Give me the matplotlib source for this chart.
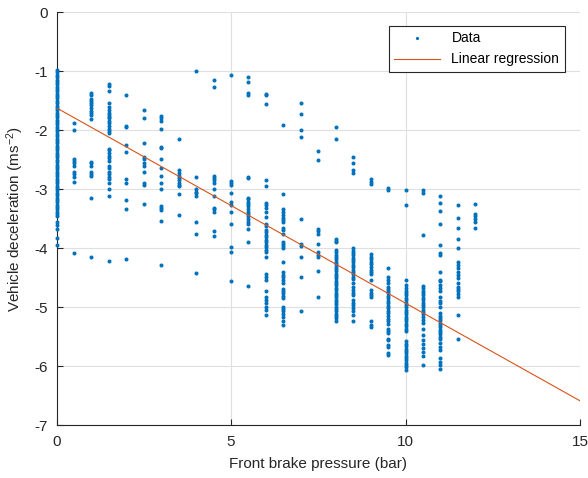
import numpy as np
import matplotlib
matplotlib.use("Agg")
import matplotlib.pyplot as plt

pressure_levels = [0, 0.5, 1, 1.5, 2, 2.5, 3, 3.5, 4, 4.5, 5, 5.5, 6, 6.5,
                   7, 7.5, 8, 8.5, 9, 9.5, 10, 10.5, 11, 11.5, 12]

d_00 = [-0.98, -1.02, -1.06, -1.10, -1.14, -1.18, -1.22, -1.26, -1.30, -1.34, -1.38,
        -1.42, -1.46, -1.50, -1.54, -1.58, -1.62, -1.66, -1.70, -1.74, -1.78, -1.82,
        -1.86, -1.90, -1.94, -1.98, -2.02, -2.06, -2.10, -2.14, -2.18, -2.22, -2.26,
        -2.30, -2.34, -2.38, -2.42, -2.46, -2.50, -2.54, -2.58, -2.62, -2.66, -2.70,
        -2.74, -2.78, -2.82, -2.86, -2.90, -2.94, -2.98, -3.02, -3.06, -3.10, -3.14,
        -3.18, -3.22, -3.26, -3.30, -3.34, -3.38, -3.42, -3.46, -3.55, -3.60, -3.68,
        -3.82, -3.95]
d_05 = [-1.88, -2.00, -2.49, -2.52, -2.56, -2.60, -2.70, -2.74, -2.79, -2.88, -4.08]
d_10 = [-1.37, -1.40, -1.47, -1.50, -1.53, -1.57, -1.63, -1.67, -1.70, -1.74, -1.81,
        -2.54, -2.56, -2.60, -2.70, -2.74, -2.77, -3.14, -4.15]
d_15 = [-1.22, -1.25, -1.33, -1.53, -1.61, -1.66, -1.71, -1.74, -1.77, -1.80, -1.84,
        -1.88, -1.93, -1.98, -2.02, -2.05, -2.31, -2.34, -2.39, -2.44, -2.47, -2.52,
        -2.60, -2.64, -2.70, -2.74, -2.79, -2.82, -2.89, -3.00, -3.12, -4.21]
d_20 = [-1.40, -1.93, -1.94, -2.25, -2.37, -2.82, -2.90, -3.19, -3.34, -4.19]
d_25 = [-1.66, -1.79, -2.21, -2.45, -2.49, -2.55, -2.60, -2.71, -2.90, -2.93, -3.25]
d_30 = [-1.76, -1.80, -1.84, -1.98, -2.28, -2.30, -2.48, -2.64, -2.77, -2.90, -3.00,
        -3.28, -3.31, -3.35, -3.54, -4.28]
d_35 = [-2.15, -2.68, -2.73, -2.77, -2.81, -2.85, -2.90, -2.93, -2.95, -3.08, -3.43]
d_40 = [-0.99, -2.80, -3.00, -3.04, -3.07, -3.11, -3.56, -3.75, -4.42]
d_45 = [-1.15, -1.26, -2.77, -2.81, -2.85, -2.89, -3.00, -3.12, -3.31, -3.34, -3.38,
        -3.71, -3.80]
d_50 = [-1.07, -2.86, -2.89, -2.93, -3.07, -3.21, -3.27, -3.38, -3.59, -3.97, -4.06, -4.55]
d_55 = [-1.10, -1.19, -1.37, -1.40, -2.79, -2.81, -3.14, -3.17, -3.21, -3.25, -3.29,
        -3.33, -3.38, -3.42, -3.46, -3.50, -3.55, -3.59, -3.68, -3.90, -4.64]
d_60 = [-1.39, -1.40, -1.56, -2.84, -2.94, -3.23, -3.27, -3.31, -3.38, -3.47, -3.58,
        -3.63, -3.69, -3.73, -3.77, -3.81, -3.86, -3.90, -3.94, -3.98, -4.03, -4.07,
        -4.14, -4.44, -4.48, -4.53, -4.72, -4.83, -4.88, -4.93, -4.99, -5.05, -5.13]
d_65 = [-1.91, -3.08, -3.34, -3.38, -3.44, -3.48, -3.52, -3.55, -3.66, -3.69, -3.76,
        -3.89, -3.93, -3.96, -4.00, -4.24, -4.41, -4.45, -4.49, -4.54, -4.59, -4.69,
        -4.73, -4.76, -4.81, -4.85, -4.99, -5.03, -5.07, -5.11, -5.16, -5.23, -5.30]
d_70 = [-1.54, -1.73, -1.99, -2.11, -3.50, -3.93, -3.96, -4.15, -4.49, -5.06]
d_75 = [-2.35, -2.50, -3.68, -3.71, -3.76, -3.93, -4.07, -4.11, -4.15, -4.38, -4.82]
d_80 = [-1.94, -2.15, -3.85, -3.87, -3.89, -4.03, -4.07, -4.11, -4.15, -4.19, -4.23,
        -4.27, -4.31, -4.35, -4.39, -4.43, -4.47, -4.51, -4.55, -4.59, -4.63, -4.67,
        -4.71, -4.75, -4.79, -4.83, -4.87, -4.91, -4.95, -4.99, -5.03, -5.07, -5.11,
        -5.15, -5.19, -5.23]
d_85 = [-2.45, -2.55, -2.68, -2.72, -4.00, -4.04, -4.08, -4.12, -4.16, -4.20, -4.24,
        -4.28, -4.32, -4.36, -4.40, -4.44, -4.48, -4.52, -4.59, -4.65, -4.70, -4.76,
        -4.79, -4.87, -4.92, -4.96, -5.02, -5.07, -5.13, -5.24]
d_90 = [-2.83, -2.87, -2.91, -4.09, -4.14, -4.19, -4.23, -4.27, -4.31, -4.36, -4.40,
        -4.44, -4.54, -4.71, -4.75, -4.79, -4.83, -5.24, -5.30, -5.33]
d_95 = [-2.98, -3.01, -4.34, -4.49, -4.54, -4.59, -4.65, -4.69, -4.73, -4.76, -4.81,
        -4.85, -4.89, -4.93, -4.98, -5.02, -5.06, -5.10, -5.15, -5.20, -5.24, -5.28,
        -5.36, -5.40, -5.44, -5.53, -5.55, -5.64, -5.67, -5.78, -5.81]
d_100 = [-3.02, -3.26, -4.53, -4.62, -4.68, -4.72, -4.76, -4.80, -4.84, -4.88, -4.92,
         -4.96, -5.00, -5.04, -5.08, -5.12, -5.16, -5.20, -5.24, -5.28, -5.32, -5.36,
         -5.40, -5.58, -5.62, -5.66, -5.70, -5.74, -5.78, -5.82, -5.86, -5.90, -5.94,
         -5.98, -6.02, -6.06]
d_105 = [-3.01, -3.06, -3.77, -4.64, -4.68, -4.72, -4.76, -4.80, -4.84, -4.88, -4.92,
         -4.96, -5.00, -5.04, -5.08, -5.12, -5.16, -5.21, -5.27, -5.36, -5.47, -5.55,
         -5.62, -5.69, -5.75, -5.82, -5.98]
d_110 = [-3.11, -3.24, -3.36, -3.58, -3.94, -4.08, -4.11, -4.41, -4.53, -4.56, -4.62,
         -4.68, -4.73, -4.82, -4.90, -4.93, -4.99, -5.10, -5.14, -5.18, -5.22, -5.26,
         -5.30, -5.34, -5.38, -5.42, -5.46, -5.50, -5.54, -5.61, -5.67, -5.72, -5.86,
         -5.92, -5.98, -6.05]
d_115 = [-3.27, -3.49, -3.66, -3.84, -4.00, -4.23, -4.28, -4.34, -4.40, -4.45, -4.51,
         -4.59, -4.65, -4.69, -4.73, -4.77, -4.82, -5.13, -5.53]
d_120 = [-3.25, -3.42, -3.46, -3.51, -3.55, -3.66]

decel_columns = [d_00, d_05, d_10, d_15, d_20, d_25, d_30, d_35, d_40, d_45, d_50,
                 d_55, d_60, d_65, d_70, d_75, d_80, d_85, d_90, d_95, d_100, d_105,
                 d_110, d_115, d_120]

# Coeficientes de la recta de regresión
reg_intercept = -1.62
reg_slope = -0.331

x_data = np.concatenate([[p] * len(d) for p, d in zip(pressure_levels, decel_columns)])
y_data = np.concatenate(decel_columns)

plt.rcParams['font.family'] = ['Liberation Sans', 'DejaVu Sans']
plt.rcParams['axes.unicode_minus'] = False
plt.rcParams['mathtext.fontset'] = 'custom'
plt.rcParams['mathtext.rm'] = 'Liberation Sans'
plt.rcParams['mathtext.it'] = 'Liberation Sans:italic'

axis_col = '#262626'

fig = plt.figure(figsize=(5.88, 4.78), dpi=100)
ax = fig.add_axes([0.0961, 0.1103, 0.8903, 0.8640])

ax.plot(x_data, y_data, 'o', color='#0072BD', markersize=2.9, markeredgewidth=0,
        label='Data', clip_on=False, zorder=3)
x_line = np.array([0, 15])
ax.plot(x_line, reg_intercept + reg_slope * x_line, color='#D95319', linewidth=0.8,
        label='Linear regression', zorder=4)

ax.set_xlim(0, 15)
ax.set_ylim(-7, 0)
ax.set_xticks([0, 5, 10, 15])
ax.set_yticks(range(-7, 1))

# Estilo tipo MATLAB: rejilla gris clara, ejes izquierdo e inferior
ax.grid(True, color='#dfdfdf', linewidth=0.8)
ax.set_axisbelow(True)
ax.spines['top'].set_visible(False)
ax.spines['right'].set_visible(False)
for s in ['left', 'bottom']:
    ax.spines[s].set_color(axis_col)
    ax.spines[s].set_linewidth(0.8)
ax.tick_params(direction='in', length=4, width=0.8, color=axis_col, labelcolor=axis_col,
               labelsize=11)
ax.tick_params(axis='x', pad=7)
ax.tick_params(axis='y', pad=6)

ax.set_xlabel('Front brake pressure (bar)', fontsize=11, color=axis_col, labelpad=6)
ax.set_ylabel('Vehicle deceleration (ms$^{-2}$)', fontsize=11, color=axis_col, labelpad=6)

leg = ax.legend(loc='upper right', bbox_to_anchor=(0.971, 0.967), borderaxespad=0,
                fontsize=10, fancybox=False, framealpha=1, edgecolor=axis_col,
                handlelength=3.3, markerscale=0.8)
leg.get_frame().set_linewidth(0.8)

plt.savefig('out.png', dpi=100)
